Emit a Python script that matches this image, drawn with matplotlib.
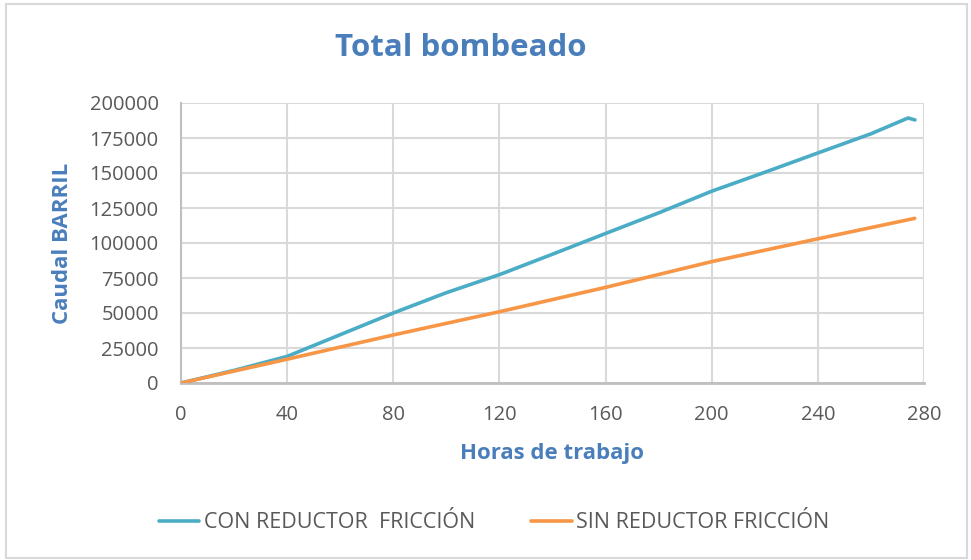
import matplotlib
matplotlib.use("Agg")
import matplotlib.pyplot as plt
from matplotlib.patches import Rectangle

# horas de trabajo / caudal acumulado (barriles)
horas_con = [0, 20, 40, 60, 80, 100, 120, 140, 160, 180, 200, 220, 240, 260, 274, 276.6]
caudal_con = [0, 9000, 19000, 34500, 50000, 64500, 77400, 92000, 106800, 121500,
              137000, 150500, 164300, 178000, 189300, 187900]

horas_sin = [0, 40, 80, 120, 160, 200, 240, 276.5]
caudal_sin = [0, 17000, 34300, 50900, 68300, 86700, 103000, 117600]

x_ticks = [0, 40, 80, 120, 160, 200, 240, 280]
y_ticks = [0, 25000, 50000, 75000, 100000, 125000, 150000, 175000, 200000]

azul = "#4a7ebb"
gris_texto = "#595959"

plt.rcParams["font.family"] = ["Open Sans", "DejaVu Sans"]

fig = plt.figure(figsize=(9.71, 5.6), dpi=100)
fig.patches.append(Rectangle((6 / 971, 2 / 560), 961 / 971, 554 / 560,
                             transform=fig.transFigure, fill=False,
                             edgecolor="#d9d9d9", linewidth=1.5))
ax = fig.add_axes([181 / 971, 1 - 383 / 560, 743 / 971, 280 / 560])

ax.plot(horas_con, caudal_con, color="#4bacc6", linewidth=2.6,
        solid_capstyle="round", label="CON REDUCTOR  FRICCIÓN", zorder=3)
ax.plot(horas_sin, caudal_sin, color="#f79646", linewidth=2.6,
        solid_capstyle="round", label="SIN REDUCTOR FRICCIÓN", zorder=3)

ax.set_xlim(0, 280)
ax.set_ylim(0, 200000)
ax.set_xticks(x_ticks)
ax.set_yticks(y_ticks)
ax.set_yticklabels([str(v) for v in y_ticks])
ax.tick_params(axis="both", length=0, labelsize=14.5, colors=gris_texto)
ax.tick_params(axis="x", pad=16)
ax.tick_params(axis="y", pad=16)
ax.grid(True, color="#d9d9d9", linewidth=1.5)
ax.set_axisbelow(True)
for s in ["top", "right"]:
    ax.spines[s].set_visible(False)
ax.spines["left"].set_color("#bfbfbf")
ax.spines["bottom"].set_color("#bfbfbf")
ax.spines["bottom"].set_linewidth(2)
ax.spines["left"].set_linewidth(1.5)

fig.text(461 / 971, 1 - 48 / 560, "Total bombeado", ha="center", va="center",
         fontsize=22.5, fontweight="bold", color=azul)
fig.text(552 / 971, 1 - 453 / 560, "Horas de trabajo", ha="center", va="center",
         fontsize=16, fontweight="bold", color=azul)
fig.text(62 / 971, 1 - 243 / 560, "Caudal BARRIL", ha="center", va="center",
         rotation=90, fontsize=16, fontweight="bold", color=azul)

fig.legend(loc="center", bbox_to_anchor=(494 / 971, 1 - 523 / 560), ncol=2,
           frameon=False, fontsize=15.5, labelcolor=gris_texto,
           handlelength=1.9, columnspacing=2.6, handletextpad=0.2)

fig.savefig("out.png", dpi=100)
